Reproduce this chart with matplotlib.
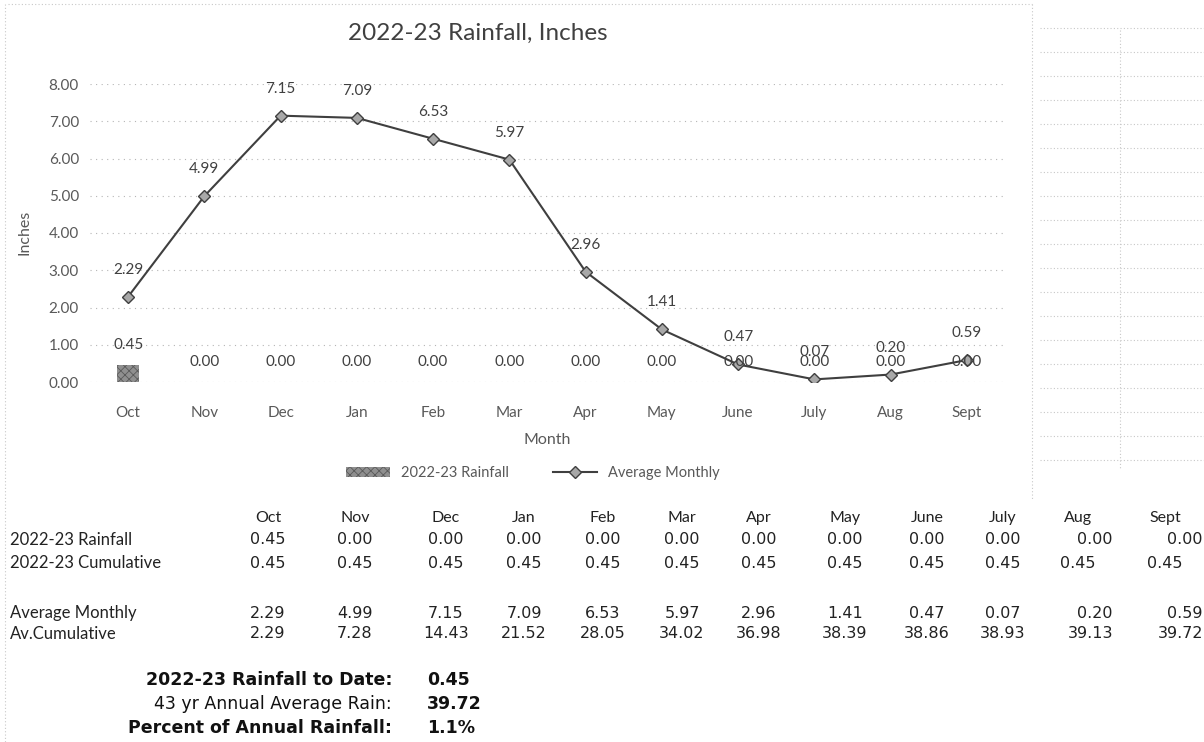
import matplotlib
matplotlib.use("Agg")
import matplotlib.pyplot as plt
from matplotlib.lines import Line2D
import numpy as np

# data
months = ["Oct", "Nov", "Dec", "Jan", "Feb", "Mar", "Apr", "May", "June", "July", "Aug", "Sept"]
rain_2223 = [0.45, 0.00, 0.00, 0.00, 0.00, 0.00, 0.00, 0.00, 0.00, 0.00, 0.00, 0.00]
cum_2223 = [0.45, 0.45, 0.45, 0.45, 0.45, 0.45, 0.45, 0.45, 0.45, 0.45, 0.45, 0.45]
avg_monthly = [2.29, 4.99, 7.15, 7.09, 6.53, 5.97, 2.96, 1.41, 0.47, 0.07, 0.20, 0.59]
avg_cum = [2.29, 7.28, 14.43, 21.52, 28.05, 34.02, 36.98, 38.39, 38.86, 38.93, 39.13, 39.72]

summary_labels = ["2022-23 Rainfall to Date:", "43 yr Annual Average Rain:", "Percent of Annual Rainfall:"]
summary_values = ["0.45", "39.72", "1.1%"]

W, H = 1204, 742
CHART_FONT = ["Lato", "DejaVu Sans"]
TABLE_FONT = ["DejaVu Sans"]

plt.rcParams["hatch.linewidth"] = 0.6

fig = plt.figure(figsize=(W / 100, H / 100), dpi=100)
fig.patch.set_facecolor("white")


def fx(px):
    return px / W


def fy(py):
    return 1 - py / H


ax = fig.add_axes([fx(90), fy(382), fx(1005) - fx(90), fy(84) - fy(382)])
x = np.arange(len(months))

bars = ax.bar(x, rain_2223, width=0.28, color="#8f8f8f", edgecolor="#5a5a5a",
              hatch="xxxx", linewidth=0, label="2022-23 Rainfall", zorder=2)
line, = ax.plot(x, avg_monthly, color="#3f3f3f", lw=1.5, marker="D", ms=6,
                mfc="#a8a8a8", mec="#3f3f3f", mew=1, label="Average Monthly", zorder=3)

for xi, v in zip(x, rain_2223):
    ax.annotate(f"{v:.2f}", (xi, v), xytext=(0, 20), textcoords="offset pixels",
                ha="center", va="center", fontsize=11, color="#404040", family=CHART_FONT)
for xi, v in zip(x, avg_monthly):
    ax.annotate(f"{v:.2f}", (xi, v), xytext=(0, 27), textcoords="offset pixels",
                ha="center", va="center", fontsize=11, color="#404040", family=CHART_FONT)

ax.set_xlim(-0.5, len(months) - 0.5)
ax.set_ylim(0, 8)
ax.set_yticks(np.arange(0, 9, 1))
ax.set_yticklabels([f"{t:.2f}" for t in range(9)])
ax.set_xticks(x)
ax.set_xticklabels(months)
ax.tick_params(length=0, labelsize=11, labelcolor="#595959")
ax.tick_params(axis="y", pad=8)
ax.tick_params(axis="x", pad=17)
for lab in ax.get_xticklabels() + ax.get_yticklabels():
    lab.set_family(CHART_FONT)
ax.grid(axis="y", linestyle=(0, (1, 4)), color="#b5b5b5", lw=0.8, zorder=0)
for s in ax.spines.values():
    s.set_visible(False)

ax.set_xlabel("Month", fontsize=11.5, color="#595959", family=CHART_FONT, labelpad=10)
fig.text(fx(24), fy(232), "Inches", rotation=90, ha="center", va="center",
         fontsize=11.5, color="#595959", family=CHART_FONT)
fig.text(fx(478), fy(33), "2022-23 Rainfall, Inches", ha="center", va="center",
         fontsize=17.5, color="#404040", family=CHART_FONT)

fig.legend(handles=[bars, line], loc="center", bbox_to_anchor=(fx(533), fy(473)),
           ncol=2, frameon=False, handlelength=3, columnspacing=3,
           prop={"family": CHART_FONT, "size": 10.5}, labelcolor="#595959")

# chart border and spreadsheet cell lines
dot = dict(color="#c8c8c8", lw=0.8, linestyle=(0, (1, 2)), transform=fig.transFigure)
fig.add_artist(Line2D([fx(8), fx(1032)], [fy(4), fy(4)], **dot))
fig.add_artist(Line2D([fx(5), fx(5)], [fy(4), fy(742)], **dot))
fig.add_artist(Line2D([fx(1032), fx(1032)], [fy(4), fy(500)], **dot))
fig.add_artist(Line2D([fx(1120), fx(1120)], [fy(30), fy(470)], **dot))
for gy in range(28, 470, 24):
    fig.add_artist(Line2D([fx(1040), fx(1204)], [fy(gy), fy(gy)], **dot))

# data table below the chart
col_x = [268, 355, 446, 524, 603, 682, 759, 845, 927, 1003, 1078, 1165]
rows = [
    ("2022-23 Rainfall", rain_2223, 540, True),
    ("2022-23 Cumulative", cum_2223, 563, False),
    ("Average Monthly", avg_monthly, 613, True),
    ("Av.Cumulative", avg_cum, 634, True),
]
for m, cx in zip(months, col_x):
    fig.text(fx(cx), fy(518), m, ha="center", va="center", fontsize=11.5,
             color="#222222", family=CHART_FONT)
for name, vals, ry, shifted in rows:
    fig.text(fx(10), fy(ry), name, ha="left", va="center", fontsize=12,
             color="#222222", family=CHART_FONT)
    for i, (v, cx) in enumerate(zip(vals, col_x)):
        if shifted and i == 10:
            fig.text(fx(1113), fy(ry), f"{v:.2f}", ha="right", va="center",
                     fontsize=11.5, color="#222222", family=TABLE_FONT)
        elif shifted and i == 11:
            fig.text(fx(1203), fy(ry), f"{v:.2f}", ha="right", va="center",
                     fontsize=11.5, color="#222222", family=TABLE_FONT)
        else:
            fig.text(fx(cx), fy(ry), f"{v:.2f}", ha="center", va="center",
                     fontsize=11.5, color="#222222", family=TABLE_FONT)

for i, (lab, val) in enumerate(zip(summary_labels, summary_values)):
    ry = 680 + 24 * i
    weight = "normal" if i == 1 else "bold"
    fig.text(fx(392), fy(ry), lab, ha="right", va="center", fontsize=12.5,
             weight=weight, color="#111111", family=TABLE_FONT)
    fig.text(fx(427), fy(ry), val, ha="left", va="center", fontsize=12.5,
             weight="bold", color="#111111", family=TABLE_FONT)

fig.savefig("out.png", dpi=100)
